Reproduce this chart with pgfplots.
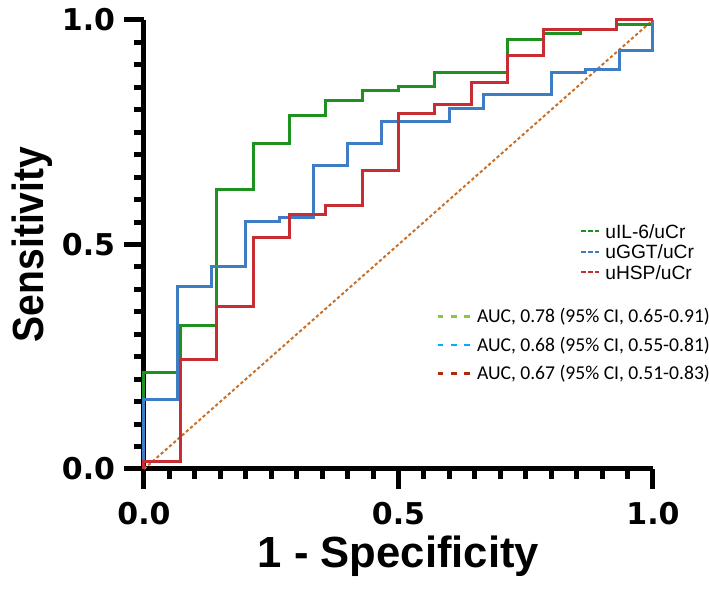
\documentclass[border=0pt]{standalone}
\usepackage{fontspec}
\setmainfont{Liberation Sans}
\newfontfamily\arialfont{Liberation Sans}
\newfontfamily\tickfont{DejaVu Sans}
\newfontfamily\calib{Carlito}
\usepackage{pgfplots}
\pgfplotsset{compat=1.18}

\definecolor{cgreen}{RGB}{30,145,30}
\definecolor{cblue}{RGB}{62,125,198}
\definecolor{cred}{RGB}{198,46,52}
\definecolor{cdiag}{RGB}{200,112,40}
\definecolor{lgreen}{RGB}{140,198,63}
\definecolor{lblue}{RGB}{0,176,240}
\definecolor{lred}{RGB}{180,40,10}

\begin{document}
\begin{tikzpicture}
\begin{axis}[
    at={(0,0)}, anchor=south west,
    scale only axis, width=254.5pt, height=224.5pt,
    xmin=0, xmax=1, ymin=0, ymax=1,
    axis x line=bottom, axis y line=left,
    axis line style={-, line width=2.5pt},
    xtick={0,0.5,1}, ytick={0,0.5,1},
    xticklabels={0.0,0.5,1.0}, yticklabels={0.0,0.5,1.0},
    minor tick num=9,
    tick align=outside,
    major tick length=10pt, minor tick length=5pt,
    every tick/.style={black, line width=2.5pt},
    tick label style={font=\tickfont\bfseries\fontsize{15}{18}\selectfont},
    xticklabel style={inner sep=0pt, anchor=north, yshift=-6.5pt},
    yticklabel style={inner sep=0pt, anchor=east, xshift=-4.25pt},
    xlabel={1 - Specificity}, ylabel={\scalebox{0.895}[1]{Sensitivity}},
    label style={font=\bfseries\fontsize{21.8}{24}\selectfont, inner sep=0pt},
    xlabel style={at={(axis description cs:0.5,-0.195)}, anchor=center},
    ylabel style={at={(axis description cs:-0.22,0.5)}, anchor=center},
    clip=false,
    legend style={at={(axis description cs:0.8566,0.5468)}, anchor=north west,
        draw=none, fill=none, inner sep=0pt, row sep=0pt, cells={anchor=west},
        nodes={inner sep=0pt, inner xsep=2.5pt, text height=7.25pt, text depth=3pt,
               font=\arialfont\fontsize{9.6}{12}\selectfont}},
    legend image code/.code={\draw[#1, line width=1pt, dash pattern=on 2.2pt off 1.2pt] (0pt,1.5pt) -- (9pt,1.5pt);},
]
% chance line
\addplot[cdiag, line width=1pt, dash pattern=on 1.6pt off 1.2pt, forget plot] coordinates {(0,0) (1,1)};

% uIL-6/uCr
\addplot[cgreen, line width=1.5pt] coordinates {
(0,0)(0,0.215)(0.0714,0.215)(0.0714,0.319)(0.1429,0.319)(0.1429,0.623)
(0.2143,0.623)(0.2143,0.724)(0.2857,0.724)(0.2857,0.787)(0.3571,0.787)
(0.3571,0.820)(0.4286,0.820)(0.4286,0.842)(0.5,0.842)(0.5,0.851)
(0.5714,0.851)(0.5714,0.883)(0.7143,0.883)(0.7143,0.957)(0.7857,0.957)
(0.7857,0.969)(0.8571,0.969)(0.8571,0.978)(0.9286,0.978)(0.9286,0.989)
(1,0.989)(1,1)};
\addlegendentry{uIL-6/uCr}

% uGGT/uCr
\addplot[cblue, line width=1.5pt] coordinates {
(0,0)(0,0.154)(0.0667,0.154)(0.0667,0.406)(0.1333,0.406)(0.1333,0.452)
(0.2,0.452)(0.2,0.552)(0.2667,0.552)(0.2667,0.561)(0.3333,0.561)
(0.3333,0.677)(0.4,0.677)(0.4,0.725)(0.4667,0.725)(0.4667,0.775)
(0.6,0.775)(0.6,0.803)(0.6667,0.803)(0.6667,0.833)(0.8,0.833)
(0.8,0.883)(0.8667,0.883)(0.8667,0.890)(0.9333,0.890)(0.9333,0.932)
(1,0.932)(1,1)};
\addlegendentry{uGGT/uCr}

% uHSP/uCr
\addplot[cred, line width=1.5pt] coordinates {
(0,0)(0,0.016)(0.0714,0.016)(0.0714,0.243)(0.1429,0.243)(0.1429,0.363)
(0.2143,0.363)(0.2143,0.516)(0.2857,0.516)(0.2857,0.566)(0.3571,0.566)
(0.3571,0.586)(0.4286,0.586)(0.4286,0.664)(0.5,0.664)(0.5,0.791)
(0.5714,0.791)(0.5714,0.811)(0.6429,0.811)(0.6429,0.860)(0.7143,0.860)
(0.7143,0.920)(0.7857,0.920)(0.7857,0.978)(0.9286,0.978)(0.9286,1)(1,1)};
\addlegendentry{uHSP/uCr}
\end{axis}

% second legend block (AUC values)
\begin{axis}[
    at={(0,0)}, anchor=south west,
    scale only axis, width=254.5pt, height=224.5pt,
    xmin=0, xmax=1, ymin=0, ymax=1,
    hide axis,
    legend style={at={(axis description cs:0.5737,0.3713)}, anchor=north west,
        draw=none, fill=none, inner sep=0pt, row sep=0pt, cells={anchor=west},
        nodes={inner sep=0pt, inner xsep=3pt, text height=10pt, text depth=4.3pt,
               font=\calib\fontsize{9.8}{12}\selectfont}},
    legend image code/.code={\draw[#1] (0pt,0.3pt) -- (16pt,0.3pt);},
]
\addlegendimage{lgreen, line width=1.3pt, dash pattern=on 2.8pt off 3.8pt}
\addlegendentry{AUC, 0.78 (95\% CI, 0.65-0.91)}
\addlegendimage{lblue, line width=1.3pt, dash pattern=on 2.8pt off 3.8pt}
\addlegendentry{AUC, 0.68 (95\% CI, 0.55-0.81)}
\addlegendimage{lred, line width=1.3pt, dash pattern=on 2.8pt off 3.8pt}
\addlegendentry{AUC, 0.67 (95\% CI, 0.51-0.83)}
\end{axis}

\pgfresetboundingbox
\path[use as bounding box] (-72pt,-64.5pt) rectangle (282.5pt,234.5pt);
\end{tikzpicture}
\end{document}
